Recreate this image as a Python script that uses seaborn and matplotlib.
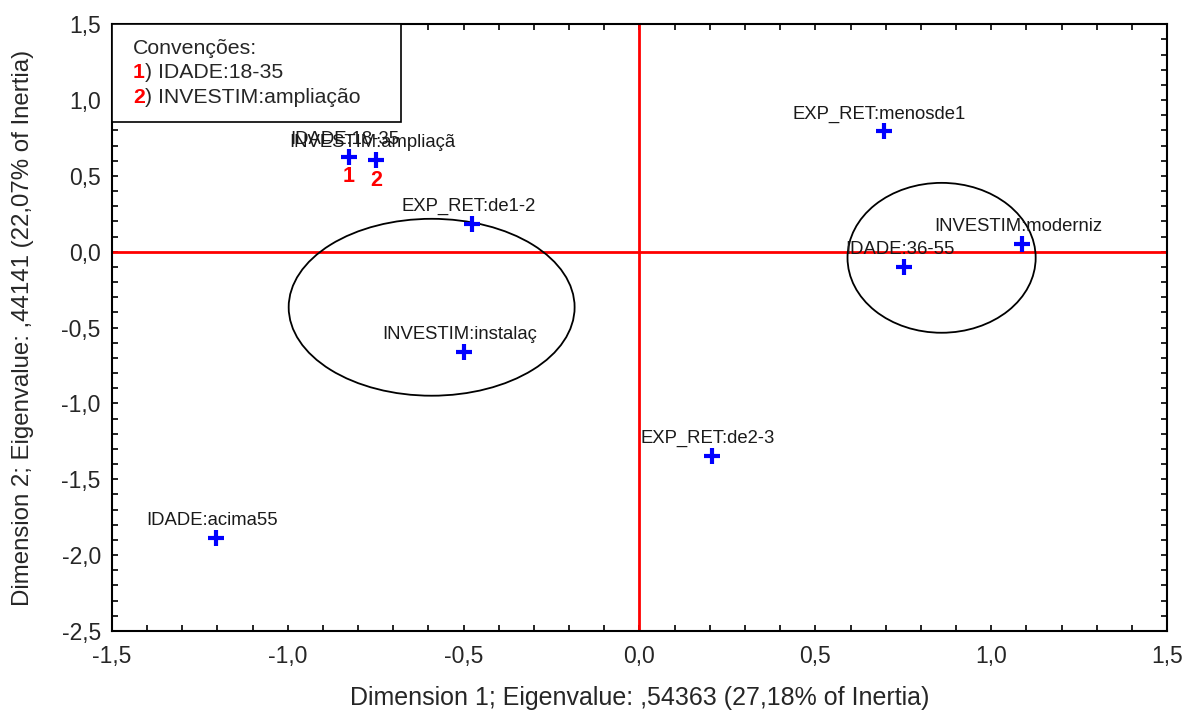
import pandas as pd
import matplotlib
matplotlib.use("Agg")
import matplotlib.pyplot as plt
import seaborn as sns
from matplotlib.patches import Ellipse, Rectangle
from matplotlib.ticker import MultipleLocator, FuncFormatter

# category coordinates
labels = ['IDADE:18-35', 'INVESTIM:ampliaçã', 'EXP_RET:de1-2', 'INVESTIM:instalaç',
          'EXP_RET:menosde1', 'INVESTIM:moderniz', 'IDADE:36-55', 'EXP_RET:de2-3',
          'IDADE:acima55']
dim1 = [-0.827, -0.748, -0.475, -0.500, 0.694, 1.089, 0.751, 0.205, -1.203]
dim2 = [0.626, 0.606, 0.185, -0.659, 0.797, 0.053, -0.099, -1.344, -1.885]

# groups drawn as ellipses: centre x, centre y, width, height
ell_x = [-0.591, 0.859]
ell_y = [-0.366, -0.040]
ell_w = [0.813, 0.535]
ell_h = [1.166, 0.988]

conv_nums = ['1', '2']
conv_text = [') IDADE:18-35', ') INVESTIM:ampliação']

df = pd.DataFrame({'dim1': dim1, 'dim2': dim2, 'label': labels})

sns.set_style("white")
plt.rcParams['font.family'] = ['Liberation Sans', 'DejaVu Sans']

fig, ax = plt.subplots(figsize=(11.86, 7.11), dpi=100)
fig.subplots_adjust(left=0.0944, right=0.984, top=0.966, bottom=0.1125)

ax.axhline(0, color='red', lw=2, zorder=1)
ax.axvline(0, color='red', lw=2, zorder=1)

for cx, cy, w, h in zip(ell_x, ell_y, ell_w, ell_h):
    ax.add_patch(Ellipse((cx, cy), w, h, fill=False, ec='black', lw=1.3, zorder=2))

sns.scatterplot(ax=ax, data=df, x='dim1', y='dim2', marker='+', s=130,
                linewidth=3, color='#0000ff', legend=False, zorder=4)

for _, r in df.iterrows():
    ax.annotate(r['label'], (r['dim1'], r['dim2']), xytext=(-3, 9),
                textcoords='offset points', ha='center', va='baseline',
                fontsize=13.3, color='#1a1a1a', zorder=3)

# red numbers under the two overlapping points
for i, num in enumerate(conv_nums):
    ax.annotate(num, (df['dim1'][i], df['dim2'][i]), xytext=(0, -7),
                textcoords='offset points', ha='center', va='top',
                fontsize=15.5, fontweight='bold', color='red', zorder=3)

ax.set_xlim(-1.5, 1.5)
ax.set_ylim(-2.5, 1.5)
ax.xaxis.set_major_locator(MultipleLocator(0.5))
ax.yaxis.set_major_locator(MultipleLocator(0.5))
ax.xaxis.set_minor_locator(MultipleLocator(0.1))
ax.yaxis.set_minor_locator(MultipleLocator(0.1))
fmt = FuncFormatter(lambda v, p: f'{v:.1f}'.replace('.', ',').replace('-0,0', '0,0'))
ax.xaxis.set_major_formatter(fmt)
ax.yaxis.set_major_formatter(fmt)
ax.tick_params(which='both', direction='in', length=4, width=1.2, color='black',
               top=True, right=True, bottom=True, left=True)
ax.tick_params(which='major', labelsize=16.5)
ax.tick_params(axis='x', which='major', pad=10)
ax.tick_params(axis='y', which='major', pad=8)
for s in ax.spines.values():
    s.set_color('black')
    s.set_linewidth(1.5)

ax.set_xlabel('Dimension 1; Eigenvalue: ,54363 (27,18% of Inertia)', fontsize=18, labelpad=13)
ax.set_ylabel('Dimension 2; Eigenvalue: ,44141 (22,07% of Inertia)', fontsize=17.3, labelpad=20)

# conventions box
ax.add_patch(Rectangle((0, 0.8386), 0.274, 0.1614, transform=ax.transAxes,
                       fill=True, fc='white', ec='black', lw=1.2, zorder=5))
ax.text(0.02, 0.96, 'Convenções:', transform=ax.transAxes, fontsize=15.3,
        va='center', zorder=6)
for i, (num, txt) in enumerate(zip(conv_nums, conv_text)):
    t = ax.text(0.02, 0.921 - i * 0.042, num, transform=ax.transAxes, fontsize=15.3,
                fontweight='bold', color='red', va='center', zorder=6)
    ax.annotate(txt, xy=(1, 0), xycoords=t, va='bottom', fontsize=15.3, zorder=6)

plt.savefig('out.png', dpi=100)
